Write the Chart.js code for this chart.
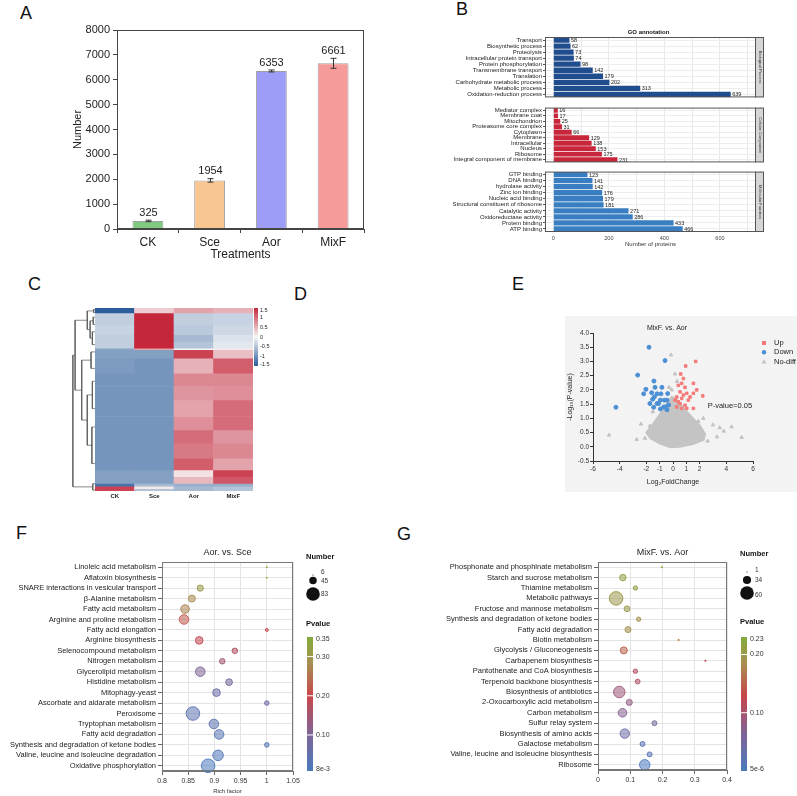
<!DOCTYPE html>
<html>
<head>
<meta charset="utf-8">
<script src="https://cdn.jsdelivr.net/npm/chart.js@4.4.1/dist/chart.umd.min.js"></script>
<style>
body { margin: 0; background: #fff; font-family: "Liberation Sans", Arial, sans-serif; }
#page { position: relative; width: 797px; height: 796px; overflow: hidden; }
canvas { position: absolute; }
.lab { position: absolute; font-size: 18px; line-height: 18px; color: #111; }
</style>
</head>
<body>
<div id="page">
  <div class="lab" style="left:20px;top:4px">A</div>
  <div class="lab" style="left:456px;top:0px">B</div>
  <div class="lab" style="left:28px;top:275px">C</div>
  <div class="lab" style="left:294px;top:285px">D</div>
  <div class="lab" style="left:512px;top:275px">E</div>
  <div class="lab" style="left:16px;top:524px">F</div>
  <div class="lab" style="left:397px;top:525px">G</div>

  <canvas id="cA" style="left:55px;top:20px" width="325" height="250"></canvas>
  <canvas id="cB1" style="left:405px;top:20px" width="365" height="82"></canvas>
  <canvas id="cB2" style="left:405px;top:103px" width="365" height="64"></canvas>
  <canvas id="cB3" style="left:405px;top:167px" width="365" height="83"></canvas>
  <canvas id="cC" style="left:60px;top:300px" width="240" height="205"></canvas>
  <canvas id="cDendro" style="left:72px;top:308px" width="23" height="183"></canvas>
  <canvas id="cE" style="left:565px;top:316px;background:#f3f3f3" width="232" height="176"></canvas>
  <canvas id="cF" style="left:0px;top:540px" width="400" height="256"></canvas>
  <canvas id="cG" style="left:400px;top:540px" width="397" height="256"></canvas>
</div>
<script>
// ---------- data ----------
// A: protein numbers
const treatments = ['CK', 'Sce', 'Aor', 'MixF'];
const proteinCounts = [325, 1954, 6353, 6661];
const countErrors = [30, 70, 40, 200];
const barColors = ['#80c980', '#f8c690', '#9d9cf6', '#f79a9a'];

// B: GO annotation
const bpTerms = ['Transport', 'Biosynthetic process', 'Proteolysis', 'Intracellular protein transport', 'Protein phosphorylation', 'Transmembrane transport', 'Translation', 'Carbohydrate metabolic process', 'Metabolic process', 'Oxidation-reduction process'];
const bpCounts = [58, 62, 73, 74, 98, 142, 179, 202, 313, 639];
const ccTerms = ['Mediator complex', 'Membrane coat', 'Mitochondrion', 'Proteasome core complex', 'Cytoplasm', 'Membrane', 'Intracellular', 'Nucleus', 'Ribosome', 'Integral component of membrane'];
const ccCounts = [16, 17, 25, 31, 66, 129, 138, 153, 175, 231];
const mfTerms = ['GTP binding', 'DNA binding', 'hydrolase activity', 'Zinc ion binding', 'Nucleic acid binding', 'Structural constituent of ribosome', 'Catalytic activity', 'Oxidoreductase activity', 'Protein binding', 'ATP binding'];
const mfCounts = [123, 141, 142, 176, 179, 181, 271, 286, 433, 466];
const goTicks = [0, 100, 200, 300, 400, 500, 600, 700];

// C: heatmap (row blocks, share of rows in %), z-scores per column
const heatBands = [2.7, 6.4, 5.5, 3.6, 3.7, 0.9, 4.6, 8.2, 7.3, 7.3, 9.1, 7.3, 7.3, 8.2, 6.4, 3.7, 3.6, 1.5, 1.4, 1.3];
const heatCK = [-1.5, -0.4, -0.35, -0.4, -0.4, -0.8, -0.85, -0.9, -0.95, -0.95, -0.95, -0.95, -0.95, -0.95, -0.95, -0.85, -0.85, -1.3, 1.3, 1.3];
const heatSce = [0.3, 1.5, 1.5, 1.5, 1.5, 0.6, -0.85, -0.95, -0.95, -0.95, -0.95, -0.95, -0.95, -0.95, -0.95, -0.85, -0.85, -0.6, 0.1, -0.5];
const heatAor = [0.6, -0.4, -0.45, -0.6, -0.5, 0.0, 1.3, 0.5, 0.8, 0.7, 0.6, 0.75, 1.0, 0.9, 1.1, 0.15, 0.45, -0.7, -0.6, -0.6];
const heatMixF = [0.5, -0.35, -0.3, -0.2, -0.15, 0.1, 0.4, 1.1, 0.8, 0.75, 1.0, 1.0, 0.7, 0.8, 0.6, 1.3, 1.15, -0.7, -0.5, -0.5];
const heatTicks = [1.5, 1, 0.5, 0, -0.5, -1, -1.5];
// dendrogram joins: [row upper, row lower, height, height upper child, height lower child]
const dendroLinks = [
  [0.8, 2.5, 0.6, 0, 0],
  [5, 9, 0.8, 0, 0],
  [13, 20, 1.2, 0, 0],
  [7, 16.5, 2.2, 0.8, 1.2],
  [1.6, 11.75, 3.5, 0.6, 2.2],
  [24, 33, 1.8, 0, 0],
  [40, 55, 1.2, 0, 0],
  [65, 85, 1.4, 0, 0],
  [47.5, 75, 3.5, 1.2, 1.4],
  [28.5, 61.25, 6, 1.8, 3.5],
  [6.7, 44.9, 9, 3.5, 6],
  [96, 99.5, 1, 0, 0],
  [25.8, 97.75, 10, 9, 1]
];

// E: volcano plot
const upX = [1.7, 0.95, 0.58, 0.78, 1.53, 0.65, 0.9, 0.4, 0.53, 1.03, 1.53, 2.23, 1.78, 0.28, 0.65, 1.15, 0.53, 0.9, 0.28, 1.03, 1.53, 0.4, 0.78, 1.28, 0.15, 0.65];
const upY = [3.0, 2.84, 2.56, 2.4, 2.23, 2.23, 2.09, 2.16, 1.93, 1.88, 1.88, 1.79, 2.0, 1.75, 1.7, 1.64, 1.52, 1.46, 1.4, 1.35, 1.35, 1.58, 1.82, 1.75, 1.64, 1.35];
const downX = [-1.8, -0.6, -2.65, -4.28, -1.43, -2.03, -2.2, -1.6, -1.35, -1.2, -0.83, -0.95, -1.53, -1.2, -1.45, -0.7, -0.45, -0.4, -0.58, -0.95, -1.08, -0.33, -1.73, -0.9, -0.65, -0.45, -1.4];
const downY = [3.5, 3.03, 2.52, 1.39, 2.31, 2.02, 1.86, 1.9, 2.09, 1.86, 2.09, 1.64, 1.67, 1.52, 1.39, 1.4, 1.64, 1.87, 1.4, 1.33, 1.52, 1.47, 1.52, 1.86, 1.64, 1.3, 1.75];
const nodiffX = [-4.8, -2.72, -2.4, -1.73, -1.52, -0.15, 0.15, -0.3, 4.4, 5.15, 3.5, 3.0, 2.27, 3.8, 3.3, 0.3, -0.1, 2.6, -2.1, 1.9];
const nodiffY = [0.41, 0.26, 0.8, 0.73, 1.23, 3.23, 2.56, 2.09, 0.7, 0.33, 0.67, 0.77, 1.0, 0.55, 0.35, 2.3, 2.0, 0.2, 0.3, 0.9];
// outline of the dense no-diff cloud
const cloudX = [-0.2, -1.0, -1.7, -2.0, -1.5, -1.2, -0.8, -0.5, -0.1, 0.2, 0.55, 1.0, 1.5, 2.0, 2.4, 2.3, 1.5, 0.5, -0.2];
const cloudY = [-0.02, 0.12, 0.3, 0.5, 0.8, 1.0, 1.25, 1.5, 1.75, 1.7, 1.5, 1.25, 1.0, 0.75, 0.45, 0.25, 0.1, 0.0, -0.02];
const volcanoXTicks = [-6, -4, -2, -1, 0, 1, 2, 4, 6];

// F: KEGG Aor vs Sce
const fTerms = ['Linoleic acid metabolism', 'Aflatoxin biosynthesis', 'SNARE interactions in vesicular transport', 'β-Alanine metabolism', 'Fatty acid metabolism', 'Arginine and proline metabolism', 'Fatty acid elongation', 'Arginine biosynthesis', 'Selenocompound metabolism', 'Nitrogen metabolism', 'Glycerolipid metabolism', 'Histidine metabolism', 'Mitophagy-yeast', 'Ascorbate and aldarate metabolism', 'Peroxisome', 'Tryptophan metabolism', 'Fatty acid degradation', 'Synthesis and degradation of ketone bodies', 'Valine, leucine and isoleucine degradation', 'Oxidative phosphorylation'];
const fRich = [1.0, 1.0, 0.873, 0.857, 0.844, 0.842, 1.0, 0.871, 0.939, 0.915, 0.873, 0.928, 0.904, 1.0, 0.859, 0.899, 0.909, 1.0, 0.907, 0.888];
const fNumber = [6, 6, 37, 42, 52, 58, 17, 46, 33, 33, 58, 40, 46, 27, 83, 58, 58, 27, 64, 83];
const fPvalue = [0.35, 0.35, 0.31, 0.28, 0.27, 0.22, 0.2, 0.19, 0.17, 0.15, 0.10, 0.09, 0.07, 0.07, 0.04, 0.04, 0.03, 0.03, 0.02, 0.008];
const fXTicks = [0.8, 0.85, 0.9, 0.95, 1, 1.05];
const fSizeLegend = [6, 45, 83];
const fPTicks = [0.35, 0.30, 0.20, 0.10, 0.008];
const fPLabels = ['0.35', '0.30', '0.20', '0.10', '8e-3'];

// G: KEGG MixF vs Aor
const gTerms = ['Phosphonate and phosphinate metabolism', 'Starch and sucrose metabolism', 'Thiamine metabolism', 'Metabolic pathways', 'Fructose and mannose metabolism', 'Synthesis and degradation of ketone bodies', 'Fatty acid degradation', 'Biotin metabolism', 'Glycolysis / Gluconeogenesis', 'Carbapenem biosynthesis', 'Pantothenate and CoA biosynthesis', 'Terpenoid backbone biosynthesis', 'Biosynthesis of antibiotics', '2-Oxocarboxylic acid metabolism', 'Carbon metabolism', 'Sulfur relay system', 'Biosynthesis of amino acids', 'Galactose metabolism', 'Valine, leucine and isoleucine biosynthesis', 'Ribosome'];
const gRich = [0.198, 0.077, 0.116, 0.056, 0.09, 0.126, 0.093, 0.25, 0.08, 0.333, 0.116, 0.123, 0.066, 0.097, 0.076, 0.175, 0.083, 0.138, 0.16, 0.145];
const gNumber = [2, 26, 16, 60, 23, 16, 24, 2, 29, 2, 16, 18, 50, 24, 36, 19, 40, 19, 19, 45];
const gPvalue = [0.23, 0.21, 0.21, 0.2, 0.2, 0.19, 0.19, 0.17, 0.15, 0.12, 0.11, 0.105, 0.09, 0.08, 0.07, 0.05, 0.04, 0.02, 0.015, 0.000005];
const gXTicks = [0, 0.1, 0.2, 0.3, 0.4];
const gSizeLegend = [1, 34, 60];
const gPTicks = [0.23, 0.20, 0.10, 0.000005];
const gPLabels = ['0.23', '0.20', '0.10', '5e-6'];

// ---------- helpers ----------
const FONT = '"Liberation Sans", Arial, sans-serif';
Chart.defaults.font.family = FONT;
Chart.defaults.color = '#222';
Chart.defaults.animation = false;
Chart.defaults.responsive = false;
Chart.defaults.plugins.legend.display = false;
Chart.defaults.plugins.tooltip.enabled = false;

const heatStops = [[0, [43, 93, 155]], [0.5, [247, 247, 247]], [1, [196, 38, 58]]];
const pStops = [[0, [74, 122, 190]], [0.28, [128, 100, 150]], [0.56, [200, 70, 75]], [0.8, [168, 142, 82]], [1, [130, 172, 60]]];

function lerpColor(stops, t) {
  t = Math.max(0, Math.min(1, t));
  for (let i = 1; i < stops.length; i++) {
    if (t <= stops[i][0]) {
      const a = stops[i - 1], b = stops[i];
      const f = (t - a[0]) / (b[0] - a[0]);
      return a[1].map((c, k) => Math.round(c + (b[1][k] - c) * f));
    }
  }
  return stops[stops.length - 1][1];
}
const rgba = (c, a) => `rgba(${c[0]},${c[1]},${c[2]},${a})`;
const zColor = z => rgba(lerpColor(heatStops, (z + 1.5) / 3), 1);

// ---------- A ----------
const errorBars = {
  id: 'errorBars',
  afterDatasetsDraw(chart) {
    const { ctx, scales: { x, y }, chartArea: a } = chart;
    ctx.save();
    ctx.strokeStyle = '#333';
    ctx.lineWidth = 1;
    ctx.fillStyle = '#222';
    ctx.font = '11px ' + FONT;
    ctx.textAlign = 'center';
    ctx.textBaseline = 'bottom';
    proteinCounts.forEach((v, i) => {
      const px = Math.round(x.getPixelForValue(i)) + 0.5;
      const top = y.getPixelForValue(v + countErrors[i]);
      const bot = y.getPixelForValue(v - countErrors[i]);
      ctx.beginPath();
      ctx.moveTo(px, top); ctx.lineTo(px, bot);
      ctx.moveTo(px - 3, top); ctx.lineTo(px + 3, top);
      ctx.moveTo(px - 3, bot); ctx.lineTo(px + 3, bot);
      ctx.stroke();
      ctx.fillText(String(v), px, top - 2);
    });
    ctx.strokeStyle = '#444';
    ctx.strokeRect(a.left + 0.5, a.top + 0.5, a.width - 1, a.height - 1);
    ctx.restore();
  }
};

new Chart(document.getElementById('cA'), {
  type: 'bar',
  data: {
    labels: treatments,
    datasets: [{
      data: proteinCounts,
      backgroundColor: barColors,
      borderColor: '#a0a0a0',
      borderWidth: 1,
      categoryPercentage: 1,
      barPercentage: 0.5
    }]
  },
  options: {
    layout: { padding: { left: 16, right: 16, top: 10, bottom: 8 } },
    scales: {
      x: {
        grid: { drawOnChartArea: false, tickLength: 4, color: '#444' },
        border: { color: '#444' },
        ticks: { font: { size: 12 }, color: '#222', padding: 2 },
        title: { display: true, text: 'Treatments', font: { size: 12 }, color: '#222', padding: 0 },
        afterFit(s) { s.height = 33; }
      },
      y: {
        min: 0, max: 8000,
        ticks: { stepSize: 500, font: { size: 11 }, color: '#222', padding: 3, callback: v => (v % 1000 === 0 ? v : '') },
        grid: { drawOnChartArea: false, tickLength: 4, color: '#444' },
        border: { color: '#444' },
        title: { display: true, text: 'Number', font: { size: 11 }, color: '#222', padding: 0 },
        afterFit(s) { s.width = 46; }
      }
    }
  },
  plugins: [errorBars]
});

// ---------- B ----------
const goDeco = {
  id: 'goDeco',
  afterDraw(chart, args, o) {
    const { ctx, chartArea: a } = chart;
    const meta = chart.getDatasetMeta(0);
    const values = chart.data.datasets[0].data;
    ctx.save();
    ctx.font = '5.5px ' + FONT;
    ctx.fillStyle = '#222';
    ctx.textAlign = 'left';
    ctx.textBaseline = 'middle';
    meta.data.forEach((bar, i) => ctx.fillText(String(values[i]), bar.x + 1.5, bar.y + 0.5));
    ctx.strokeStyle = '#555';
    ctx.lineWidth = 1;
    ctx.strokeRect(a.left + 0.5, a.top + 0.5, a.width - 1, a.height - 1);
    ctx.fillStyle = '#d6d6d6';
    ctx.fillRect(a.right, a.top, 8, a.height);
    ctx.strokeRect(a.right - 0.5, a.top + 0.5, 8, a.height - 1);
    ctx.save();
    ctx.translate(a.right + 4, (a.top + a.bottom) / 2);
    ctx.rotate(Math.PI / 2);
    ctx.fillStyle = '#333';
    ctx.font = '4px ' + FONT;
    ctx.textAlign = 'center';
    ctx.fillText(o.strip, 0, 0);
    ctx.restore();
    if (o.title) {
      ctx.font = 'bold 6px ' + FONT;
      ctx.textAlign = 'center';
      ctx.fillStyle = '#111';
      ctx.fillText(o.title, (a.left + a.right) / 2 - 2, a.top - 5);
    }
    ctx.restore();
  }
};

function goFacet(id, terms, counts, color, strip, pad, showAxis, title) {
  return new Chart(document.getElementById(id), {
    type: 'bar',
    data: { labels: terms, datasets: [{ data: counts, backgroundColor: color, categoryPercentage: 1, barPercentage: 0.88 }] },
    options: {
      indexAxis: 'y',
      layout: { padding: pad },
      scales: {
        x: {
          min: -30, max: 730,
          afterBuildTicks(s) { s.ticks = goTicks.map(v => ({ value: v })); },
          ticks: { display: showAxis, padding: 3, font: { size: 5.5 }, color: '#444', callback: v => (v % 200 === 0 ? v : '') },
          grid: { color: '#e9e9e9', drawTicks: false },
          border: { display: false },
          title: { display: showAxis, text: 'Number of proteins', font: { size: 6 }, color: '#333', padding: { top: 0, bottom: 2 } },
          afterFit(s) { s.height = showAxis ? 18 : 0; }
        },
        y: {
          ticks: { autoSkip: false, font: { size: 6 }, color: '#222', padding: 1 },
          grid: { offset: false, color: '#ededed', tickLength: 2, tickColor: '#555' },
          border: { display: false },
          afterFit(s) { s.width = 140; }
        }
      },
      plugins: { goDeco: { strip, title } }
    },
    plugins: [goDeco]
  });
}
goFacet('cB1', bpTerms, bpCounts, '#1f4d8d', 'Biological Process', { left: 0, right: 14, top: 17, bottom: 1 }, false, 'GO annotation');
goFacet('cB2', ccTerms, ccCounts, '#c8263b', 'Cellular Component', { left: 0, right: 14, top: 1, bottom: 1 }, false, null);
goFacet('cB3', mfTerms, mfCounts, '#3a7ec2', 'Molecular Function', { left: 0, right: 14, top: 1, bottom: 0 }, true, null);

// ---------- C ----------
const heatLegend = {
  id: 'heatLegend',
  afterDraw(chart) {
    const { ctx, chartArea: a } = chart;
    const x0 = a.right + 1, top = a.top, bot = a.top + 58;
    ctx.save();
    const g = ctx.createLinearGradient(0, bot, 0, top);
    heatStops.forEach(s => g.addColorStop(s[0], rgba(s[1], 1)));
    ctx.fillStyle = g;
    ctx.fillRect(x0, top, 4, bot - top);
    ctx.fillStyle = '#222';
    ctx.font = '5.5px ' + FONT;
    ctx.textAlign = 'left';
    ctx.textBaseline = 'middle';
    heatTicks.forEach(v => {
      const yy = top + (1.5 - v) / 3 * (bot - top);
      ctx.fillText(String(v), x0 + 6, Math.max(top + 2, Math.min(bot - 2, yy)));
    });
    ctx.restore();
  }
};

const heatColumns = [heatCK, heatSce, heatAor, heatMixF];
new Chart(document.getElementById('cC'), {
  type: 'bar',
  data: {
    labels: treatments,
    datasets: heatBands.map((h, i) => ({
      data: treatments.map(() => h),
      backgroundColor: heatColumns.map(col => zColor(col[i])),
      borderWidth: 0,
      categoryPercentage: 1,
      barPercentage: 1
    }))
  },
  options: {
    layout: { padding: { left: 35, right: 47, top: 8, bottom: 0 } },
    scales: {
      x: {
        stacked: true,
        grid: { display: false, drawTicks: false },
        border: { display: false },
        ticks: { font: { size: 6, weight: 'bold' }, color: '#222', padding: 2 },
        afterFit(s) { s.height = 14; }
      },
      y: { stacked: true, min: 0, max: 100, reverse: true, display: false }
    }
  },
  plugins: [heatLegend]
});

new Chart(document.getElementById('cDendro'), {
  type: 'scatter',
  data: {
    datasets: dendroLinks.map(l => ({
      data: [{ x: l[3], y: l[0] }, { x: l[2], y: l[0] }, { x: l[2], y: l[1] }, { x: l[4], y: l[1] }],
      showLine: true,
      borderColor: '#555',
      borderWidth: 0.7,
      pointRadius: 0,
      clip: false
    }))
  },
  options: {
    layout: { padding: 0 },
    scales: {
      x: { type: 'linear', min: 0, max: 10.4, reverse: true, display: false },
      y: { min: 0, max: 100, reverse: true, display: false }
    }
  }
});

// ---------- E ----------
const volcanoLegend = [
  { label: 'Up', color: '#f47a78', shape: 'rect' },
  { label: 'Down', color: '#4b8fd4', shape: 'circle' },
  { label: 'No-diff', color: '#c2c2c2', shape: 'triangle' }
];
const volcanoDeco = {
  id: 'volcanoDeco',
  afterDraw(chart) {
    const { ctx, scales: { x, y }, chartArea: a } = chart;
    ctx.save();
    ctx.fillStyle = '#222';
    ctx.font = '7px ' + FONT;
    ctx.textAlign = 'center';
    ctx.textBaseline = 'middle';
    ctx.fillText('MixF. vs. Aor', (a.left + a.right) / 2 - 6, a.top - 5);
    ctx.font = '7.5px ' + FONT;
    ctx.textAlign = 'left';
    volcanoLegend.forEach((it, i) => {
      const cy = 27 + i * 9.3, cx = a.right + 11;
      ctx.fillStyle = it.color;
      ctx.beginPath();
      if (it.shape === 'rect') ctx.rect(cx - 2, cy - 2, 4, 4);
      else if (it.shape === 'circle') ctx.arc(cx, cy, 2.2, 0, Math.PI * 2);
      else { ctx.moveTo(cx, cy - 2.4); ctx.lineTo(cx + 2.4, cy + 1.8); ctx.lineTo(cx - 2.4, cy + 1.8); ctx.closePath(); }
      ctx.fill();
      ctx.fillStyle = '#222';
      ctx.fillText(it.label, cx + 10, cy);
    });
    ctx.fillText('P-value=0.05', x.getPixelForValue(2.6), y.getPixelForValue(1.43));
    ctx.restore();
  }
};

new Chart(document.getElementById('cE'), {
  type: 'scatter',
  data: {
    datasets: [
      { data: upX.map((v, i) => ({ x: v, y: upY[i] })), pointStyle: 'rect', backgroundColor: '#f47a78', borderColor: '#f47a78', pointRadius: 1.8, order: 1 },
      { data: downX.map((v, i) => ({ x: v, y: downY[i] })), pointStyle: 'circle', backgroundColor: '#4b8fd4', borderColor: '#4b8fd4', pointRadius: 2, order: 2 },
      { data: nodiffX.map((v, i) => ({ x: v, y: nodiffY[i] })), pointStyle: 'triangle', backgroundColor: '#c2c2c2', borderColor: '#c2c2c2', pointRadius: 2, order: 3 },
      { data: cloudX.map((v, i) => ({ x: v, y: cloudY[i] })), showLine: true, fill: 'shape', backgroundColor: '#c4c4c4', borderColor: '#c4c4c4', borderWidth: 2, pointRadius: 0, order: 4 }
    ]
  },
  options: {
    layout: { padding: { left: 0, right: 44, top: 17, bottom: 0 } },
    scales: {
      x: {
        min: -6, max: 6,
        afterBuildTicks(s) { s.ticks = volcanoXTicks.map(v => ({ value: v })); },
        ticks: { font: { size: 6.5 }, color: '#333', padding: 1 },
        grid: { drawOnChartArea: false, tickLength: 3, color: '#333' },
        border: { color: '#333' },
        title: { display: true, text: 'Log₂FoldChange', font: { size: 7 }, color: '#222', padding: { top: 0, bottom: 6 } },
        afterFit(s) { s.height = 31; }
      },
      y: {
        min: -0.5, max: 4,
        ticks: { stepSize: 0.5, font: { size: 6.5 }, color: '#333', padding: 1, callback: v => v.toFixed(1) },
        grid: { drawOnChartArea: false, tickLength: 3, color: '#333' },
        border: { color: '#333' },
        title: { display: true, text: '-Log₁₀(P-value)', font: { size: 7 }, color: '#222', padding: { top: 1, bottom: 0 } },
        afterFit(s) { s.width = 28; }
      }
    }
  },
  plugins: [volcanoDeco]
});

// ---------- F & G ----------
const enrichDeco = {
  id: 'enrichDeco',
  afterDraw(chart, args, o) {
    const { ctx, chartArea: a } = chart;
    ctx.save();
    ctx.strokeStyle = '#777';
    ctx.lineWidth = 1;
    ctx.strokeRect(a.left + 0.5, a.top + 0.5, a.width - 1, a.height - 1);
    ctx.fillStyle = '#222';
    ctx.font = '9px ' + FONT;
    ctx.textAlign = 'center';
    ctx.textBaseline = 'middle';
    ctx.fillText(o.title, (a.left + a.right) / 2, a.top - 9);
    // size legend
    ctx.textAlign = 'left';
    ctx.fillStyle = '#111';
    ctx.font = 'bold 7.5px ' + FONT;
    ctx.fillText('Number', o.x, o.numY);
    o.sizes.forEach((n, i) => {
      ctx.fillStyle = '#111';
      ctx.beginPath();
      ctx.arc(o.x + 7, o.sizeY[i], o.rFn(n), 0, Math.PI * 2);
      ctx.fill();
      ctx.fillStyle = '#333';
      ctx.font = '6.5px ' + FONT;
      ctx.fillText(String(n), o.x + 15, o.labelY[i]);
    });
    // p-value colour bar
    ctx.fillStyle = '#111';
    ctx.font = 'bold 7.5px ' + FONT;
    ctx.fillText('Pvalue', o.x, o.pY);
    const top = o.barTop, bot = o.barBottom, x0 = o.x + 1;
    const g = ctx.createLinearGradient(0, bot, 0, top);
    pStops.forEach(s => g.addColorStop(s[0], rgba(s[1], 1)));
    ctx.fillStyle = g;
    ctx.fillRect(x0, top, 6, bot - top);
    ctx.font = '7px ' + FONT;
    o.pTicks.forEach((p, i) => {
      const yy = bot - (p - o.pMin) / (o.pMax - o.pMin) * (bot - top);
      if (i > 0 && i < o.pTicks.length - 1) {
        ctx.strokeStyle = '#fff';
        ctx.beginPath(); ctx.moveTo(x0, yy); ctx.lineTo(x0 + 6, yy); ctx.stroke();
      }
      ctx.fillStyle = '#333';
      ctx.fillText(o.pLabels[i], x0 + 9, Math.max(top + 2, Math.min(bot - 2, yy)));
    });
    ctx.restore();
  }
};

function enrichChart(id, terms, rich, num, pval, c) {
  const pMin = Math.min(...pval), pMax = Math.max(...pval);
  return new Chart(document.getElementById(id), {
    type: 'bubble',
    data: {
      datasets: [{
        data: terms.map((t, i) => ({ x: rich[i], y: i, r: c.rFn(num[i]) })),
        backgroundColor: pval.map(p => rgba(lerpColor(pStops, (p - pMin) / (pMax - pMin)), 0.55)),
        borderColor: pval.map(p => rgba(lerpColor(pStops, (p - pMin) / (pMax - pMin)), 0.9)),
        borderWidth: 1,
        clip: false
      }]
    },
    options: {
      layout: { padding: { left: 0, right: c.padRight, top: 22, bottom: 0 } },
      scales: {
        x: {
          type: 'linear', min: c.xTicks[0], max: c.xTicks[c.xTicks.length - 1],
          afterBuildTicks(s) { s.ticks = c.xTicks.map(v => ({ value: v })); },
          ticks: { font: { size: 7 }, color: '#333', padding: 2, callback: v => String(+v.toFixed(2)) },
          grid: { color: '#e4e4e4', tickLength: 4, tickColor: '#666' },
          border: { color: '#777' },
          title: { display: !!c.xTitle, text: c.xTitle, font: { size: 6 }, color: '#333', padding: { top: 0, bottom: 1 } },
          afterFit(s) { s.height = c.xHeight; }
        },
        y: {
          type: 'category', labels: terms, offset: true,
          ticks: { autoSkip: false, font: { size: 7.5 }, color: '#222', padding: 2 },
          grid: { offset: false, color: '#e4e4e4', tickLength: 4, tickColor: '#666' },
          border: { color: '#777' },
          afterFit(s) { s.width = c.yWidth; }
        }
      },
      plugins: {
        enrichDeco: {
          title: c.title, x: c.legX, numY: c.numY, sizes: c.sizes, sizeY: c.sizeY, labelY: c.labelY, rFn: c.rFn,
          pY: c.pY, barTop: 97, barBottom: 231, pTicks: c.pTicks, pLabels: c.pLabels, pMin, pMax
        }
      }
    },
    plugins: [enrichDeco]
  });
}

enrichChart('cF', fTerms, fRich, fNumber, fPvalue, {
  title: 'Aor. vs. Sce', xTitle: 'Rich factor', xTicks: fXTicks, xHeight: 25, yWidth: 162, padRight: 107,
  rFn: n => 0.6 + (n - 6) / 77 * 6.2,
  legX: 306, numY: 17, sizes: fSizeLegend, sizeY: [35, 40.5, 54], labelY: [32, 41, 54], pY: 84,
  pTicks: fPTicks, pLabels: fPLabels
});
enrichChart('cG', gTerms, gRich, gNumber, gPvalue, {
  title: 'MixF. vs. Aor', xTitle: '', xTicks: gXTicks, xHeight: 26, yWidth: 198, padRight: 70,
  rFn: n => 0.6 + (n - 1) / 59 * 6.2,
  legX: 340, numY: 14, sizes: gSizeLegend, sizeY: [32, 40, 53], labelY: [30, 40, 55], pY: 82,
  pTicks: gPTicks, pLabels: gPLabels
});
</script>
</body>
</html>
